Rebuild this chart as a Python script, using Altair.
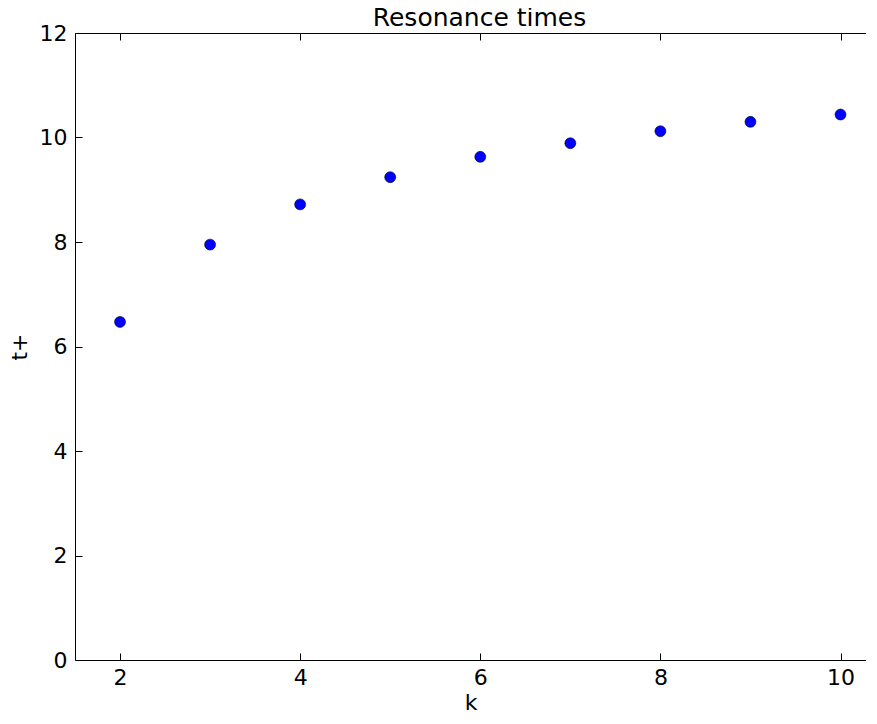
import altair as alt
import pandas as pd

k_values = [2, 3, 4, 5, 6, 7, 8, 9, 10]
t_plus = [6.47, 7.95, 8.72, 9.24, 9.63, 9.89, 10.12, 10.30, 10.44]
x_ticks = [2, 4, 6, 8, 10]
y_ticks = [0, 2, 4, 6, 8, 10, 12]

df = pd.DataFrame({"k": k_values, "t": t_plus})

FONT = "DejaVu Sans"
# plot area is clipped near the window's right edge (full domain would be 1.5..10.5)
xs = alt.Scale(domain=[1.5, 10.283], nice=False, zero=False)
ys = alt.Scale(domain=[0, 12], nice=False, zero=False)

tick_style = dict(offset=-7, tickSize=7, domain=False, grid=False, tickColor="black",
                  tickWidth=1, labelFont=FONT, labelFontSize=22, labelColor="black",
                  titleFont=FONT, titleFontSize=22, titleColor="black",
                  titleFontWeight="normal")
line_style = dict(domain=True, domainColor="black", domainWidth=1, ticks=False,
                  labels=False, title=None, grid=False, offset=0)

base = alt.Chart(df)

pts = base.mark_circle(size=120, fill="#0000ff", stroke="black",
                       strokeWidth=0.6, opacity=1).encode(
    x=alt.X("k:Q", scale=xs,
            axis=alt.Axis(orient="bottom", values=x_ticks, title="k",
                          labelPadding=7, titlePadding=4, format="d", **tick_style)),
    y=alt.Y("t:Q", scale=ys,
            axis=alt.Axis(orient="left", values=y_ticks, title="t+",
                          labelPadding=8, titlePadding=8, format="d", **tick_style)),
)

top_ticks = base.mark_point(opacity=0).encode(
    x=alt.X("k:Q", scale=xs,
            axis=alt.Axis(orient="top", values=x_ticks, labels=False, title=None,
                          **{k: v for k, v in tick_style.items()})),
    y=alt.Y("t:Q", scale=ys, axis=None),
)

spines_lb = base.mark_point(opacity=0).encode(
    x=alt.X("k:Q", scale=xs, axis=alt.Axis(orient="bottom", **line_style)),
    y=alt.Y("t:Q", scale=ys, axis=alt.Axis(orient="left", **line_style)),
)

spine_top = base.mark_point(opacity=0).encode(
    x=alt.X("k:Q", scale=xs, axis=alt.Axis(orient="top", **line_style)),
    y=alt.Y("t:Q", scale=ys, axis=None),
)

chart = alt.layer(pts, top_ticks, spines_lb, spine_top).resolve_axis(
    x="independent", y="independent").properties(
    width=791,
    height=627,
    autosize=alt.AutoSizeParams(type="none"),
    padding={"left": 67, "top": 25, "right": 0, "bottom": 58},
    title=alt.Title("Resonance times", font=FONT, fontSize=25, fontWeight="normal",
                    color="black", anchor="middle", offset=-9, dx=9),
).configure_view(stroke=None).configure(background="white")

chart.save("out.html", embed_options={"renderer": "svg", "actions": False})
